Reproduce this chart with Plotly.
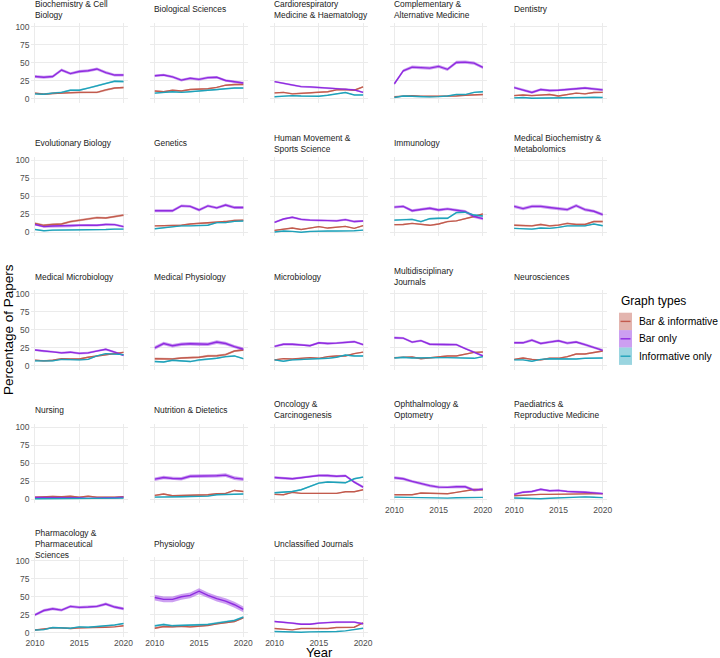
import textwrap
import plotly.graph_objects as go

# ---------------- data ----------------
years = list(range(2010, 2021))
x_ticks = [2010, 2015, 2020]
y_ticks = [0, 25, 50, 75, 100]
series_names = ["Bar & informative", "Bar only", "Informative only"]

categories = [
    "Biochemistry & Cell Biology", "Biological Sciences",
    "Cardiorespiratory Medicine & Haematology", "Complementary & Alternative Medicine",
    "Dentistry", "Evolutionary Biology", "Genetics", "Human Movement & Sports Science",
    "Immunology", "Medical Biochemistry & Metabolomics", "Medical Microbiology",
    "Medical Physiology", "Microbiology", "Multidisciplinary Journals", "Neurosciences",
    "Nursing", "Nutrition & Dietetics", "Oncology & Carcinogenesis",
    "Ophthalmology & Optometry", "Paediatrics & Reproductive Medicine",
    "Pharmacology & Pharmaceutical Sciences", "Physiology", "Unclassified Journals",
]

bar_informative = [
    [8, 6.5, 7.5, 8.3, 9, 9, 9, 9, 12.5, 15, 15.7],
    [11, 10, 12, 11, 13, 13.5, 14, 16, 19, 20, 20],
    [8.3, 9, 7, 8, 8, 10, 10, 12.5, 13, 12, 16.7],
    [3, 4, 4.6, 3.7, 3.7, 3.7, 3.7, 4, 5, 5.5, 6],
    [4.6, 5.5, 4.6, 5.5, 6, 4, 6, 8, 7, 8.8, 9],
    [12.5, 9.8, 11, 11.6, 15, 16.7, 19, 20.5, 20, 22, 24],
    [9, 9, 10, 10, 11.6, 12.5, 12.5, 13.5, 15, 16.7, 17],
    [2.8, 4.6, 6, 4, 5.6, 8, 6, 7, 8.4, 5.6, 9.3],
    [10.7, 11, 12.5, 11, 9.8, 11.6, 15, 16, 18.6, 22, 25.6],
    [10, 9, 9, 11, 9, 10, 12.5, 11, 11, 15, 15],
    [8, 7, 7.8, 10, 9.6, 9.6, 12, 13.8, 16, 17.4, 18.8],
    [10, 10, 9.6, 11, 11.5, 12, 13.8, 14, 15.6, 20.6, 22],
    [8.3, 10, 9.6, 10.5, 11.5, 10.5, 12.8, 13.8, 13.8, 17, 19],
    [11.5, 11.5, 12.4, 10, 11.5, 12.8, 13.8, 13.8, 16, 18.8, 19.3],
    [9, 11, 9, 8.3, 10.5, 10.5, 12.8, 16.5, 16.5, 18.3, 20.6],
    [3.2, 4.1, 4.1, 3.7, 4.6, 3.2, 4.6, 3.2, 2.8, 3.2, 3.7],
    [5.5, 7.4, 5, 5.5, 5, 5.5, 6.5, 7.8, 8.3, 12.4, 11],
    [7, 6.5, 9.7, 8.3, 8.3, 8.3, 8.3, 8.3, 10.6, 10.6, 13.4],
    [6.5, 6.5, 6.5, 8.8, 8.8, 8.3, 7.8, 9.7, 11.5, 13.8, 13.4],
    [5, 6, 7, 7, 7, 7, 7, 8, 8, 8, 8],
    [4, 5.6, 7, 7, 6, 7, 7, 7.9, 7.9, 8.4, 9.8],
    [6.5, 8.8, 8.4, 9.3, 8.4, 9.3, 10.2, 12.6, 14, 15.8, 21],
    [6, 5.6, 4.2, 6, 6, 6, 6, 7.4, 7.9, 7.9, 14],
]

bar_only = [
    [31, 30, 31, 40, 35, 38, 39, 41.5, 36.5, 33, 33],
    [32, 33, 30.5, 26, 28.5, 27, 29.5, 30, 25.5, 24, 22],
    [24, 22, 19, 17, 16.7, 16, 15, 14, 13.4, 12.5, 9],
    [21, 39, 44, 43, 42.6, 45, 41, 50.5, 51, 49.5, 43.5],
    [15.7, 12.5, 9, 13, 11.6, 12, 13.4, 14, 15, 14, 12.5],
    [11, 8, 8.8, 8.8, 8.8, 9.8, 10, 9.8, 11, 10.7, 8],
    [30, 30, 30, 36.7, 36, 31, 36.7, 34, 38, 34.4, 34.4],
    [14, 18.6, 21, 18, 17, 16.7, 17, 16, 17.7, 15, 15.8],
    [35, 36, 30, 32, 33.5, 31, 32.6, 30.7, 29, 22, 19],
    [36, 33, 36, 36, 34.4, 32.6, 31.6, 37, 31.6, 29.3, 24.6],
    [22, 20.5, 20, 18, 19, 17.4, 18, 21, 23, 19, 14.7],
    [25, 31, 28, 30, 30.7, 30, 30, 33, 31, 26.6, 23],
    [27, 30, 30, 29.4, 28, 32, 31, 31.6, 33, 33.5, 29.4],
    [39, 38.5, 33, 35, 30, 30, 29, 29.4, 24, 19, 13.8],
    [32, 32, 35.7, 31, 33, 34.9, 31.6, 33, 29.4, 25.7, 21.6],
    [2.8, 2.8, 2.3, 2.8, 3.2, 2.3, 1.4, 2.3, 2.3, 2.3, 3.2],
    [28, 30.4, 29, 28.6, 32, 32, 32.7, 32.7, 33.6, 29.5, 28],
    [30.4, 29.5, 28.6, 30, 32, 33, 33, 32, 32.7, 24, 17],
    [30, 28.6, 25, 21.7, 19, 17, 16.6, 17.5, 17.5, 12.9, 14.3],
    [7, 10, 11, 14, 12, 12.5, 11, 11, 10, 9, 8],
    [25, 31, 33.5, 31.6, 36.7, 35.3, 35.8, 36.7, 40, 35.8, 33.5],
    [49, 46.5, 46.5, 50, 52, 57.7, 52, 47.4, 44, 39, 32.6],
    [15.8, 14.9, 13.5, 12, 12, 13.5, 14.4, 14.9, 14.9, 14.9, 12.6],
]

informative_only = [
    [7, 6.5, 8, 9, 12, 12, 15, 18, 22, 24.5, 24],
    [8, 9, 10, 9, 9.5, 11, 12, 12.5, 14, 15, 15],
    [3, 4, 4.6, 4, 3.7, 3.7, 5, 7, 8.8, 5.5, 5.5],
    [2, 4, 3.7, 2.8, 2.8, 3.2, 4, 6, 6, 9, 10],
    [1.4, 2, 1, 1, 1.4, 1.4, 1.4, 1.4, 2, 2.3, 2],
    [4, 2.3, 3.2, 3.2, 3.2, 3.2, 3.7, 4, 4, 4.6, 4.6],
    [5, 6.5, 8, 9, 9, 10, 10, 13.5, 13.5, 15.3, 15.8],
    [0.5, 2, 1.4, 0.3, 1.4, 2, 2, 2, 2, 2.3, 3.2],
    [17, 18, 18, 15, 19, 19.5, 19.5, 27.4, 28, 24, 22.8],
    [5.6, 5, 4.6, 6, 5.6, 7, 9, 9, 9, 11.6, 9.3],
    [6.9, 6.9, 6.9, 9, 8.3, 8.3, 9, 13.8, 17, 16, 15.6],
    [6, 5.5, 7.8, 6.9, 6, 8.3, 9, 10.6, 12.8, 13.8, 10],
    [8.3, 6.4, 8.3, 8.7, 9.6, 10.5, 10.5, 12, 15, 13.8, 13.8],
    [11, 12, 11, 11.5, 11.5, 11.5, 11.5, 11.5, 11.5, 10.5, 12.8],
    [8.3, 8.3, 6.4, 9, 10, 9.6, 9.6, 9.6, 10.5, 11, 11],
    [1, 1, 1, 1.4, 1.8, 1.8, 1.4, 1, 1, 1.4, 1.8],
    [3.2, 3.7, 3.2, 3.7, 4.1, 4.6, 4.6, 6.5, 7, 7.8, 7.4],
    [9.2, 9.7, 11, 13.4, 18.4, 22.6, 24, 23.5, 23, 28.6, 30.9],
    [3.2, 2.8, 2.8, 2.8, 1.8, 1.8, 1.8, 2.3, 2.3, 3.2, 2.8],
    [2, 1.5, 1, 1, 1.5, 2, 3, 3.5, 3.5, 3, 2.5],
    [4, 4.6, 7.4, 7, 6.5, 8.4, 7.9, 8.8, 9.8, 11, 13],
    [9.8, 11.6, 9.8, 10.2, 10.7, 10.7, 11.6, 13.5, 15.8, 17.2, 21.9],
    [1.9, 1.4, 0.9, 0.9, 1.4, 1.4, 1.4, 1.9, 2.8, 5.1, 6.5],
]

# half-width of the confidence band, per panel
ci_bar_informative = [1.2, 1.0, 1.0, 0.8, 1.0, 1.5, 1.0, 0.8, 1.0, 1.2, 1.0, 1.5,
                      0.8, 0.8, 1.0, 0.8, 1.0, 0.8, 0.8, 0.8, 0.8, 1.2, 0.6]
ci_bar_only = [2.0, 1.8, 1.2, 2.2, 1.8, 1.5, 2.0, 1.5, 2.0, 2.2, 1.5, 2.5,
               1.6, 1.6, 1.8, 0.8, 2.5, 1.8, 2.0, 1.5, 2.0, 4.0, 1.2]
ci_informative_only = [1.2, 0.8, 0.6, 0.8, 0.5, 0.7, 0.8, 0.4, 1.2, 0.8, 0.8, 1.0,
                       0.8, 0.8, 0.6, 0.4, 0.7, 1.0, 0.5, 0.5, 0.8, 1.5, 0.5]

# ---------------- style / layout ----------------
W, H = 720, 658
NCOL = 5
FONT = "Liberation Sans, Arial, Helvetica, sans-serif"
line_colors = ["#C25B4E", "#8F2BE0", "#1FA2BA"]
band_colors = ["rgba(194,91,78,0.45)", "rgba(143,43,224,0.45)", "rgba(31,162,186,0.45)"]

COL_X2010 = 35.0
COL_PITCH = 119.8
PX_YEAR = 8.85
ROW_Y100 = 26.7
ROW_PITCH = 133.5
PX_UNIT = 0.722

series_values = [bar_informative, bar_only, informative_only]
series_ci = [ci_bar_informative, ci_bar_only, ci_informative_only]

n = len(categories)

fig = go.Figure()
layout = dict(
    width=W, height=H, autosize=False,
    margin=dict(l=0, r=0, t=0, b=0, pad=0),
    paper_bgcolor="white", plot_bgcolor="white",
    showlegend=False,
    font=dict(family=FONT, color="#1A1A1A"),
)
annotations = []
shapes = []

for k, cat in enumerate(categories):
    r, c = divmod(k, NCOL)
    x2010 = COL_X2010 + COL_PITCH * c
    left = x2010 - 0.5 * PX_YEAR
    right = x2010 + 10.5 * PX_YEAR
    y100 = ROW_Y100 + ROW_PITCH * r
    top = y100 - 5 * PX_UNIT
    bottom = y100 + 105 * PX_UNIT
    idx = "" if k == 0 else str(k + 1)
    xa, ya = "x" + idx, "y" + idx

    show_x = (k + NCOL) >= n
    show_y = c == 0

    layout["xaxis" + idx] = dict(
        domain=[left / W, right / W], anchor=ya, range=[2009.5, 2020.5],
        tickvals=x_ticks, showticklabels=show_x, ticks="", automargin=False,
        tickfont=dict(size=8.5, color="#4D4D4D", family=FONT),
        showgrid=True, gridcolor="#EBEBEB", gridwidth=0.8,
        zeroline=False, showline=False, fixedrange=True,
    )
    layout["yaxis" + idx] = dict(
        domain=[1 - bottom / H, 1 - top / H], anchor=xa, range=[-5, 105],
        tickvals=y_ticks, showticklabels=show_y, ticks="", automargin=False,
        tickfont=dict(size=8.5, color="#4D4D4D", family=FONT),
        showgrid=True, gridcolor="#EBEBEB", gridwidth=0.8,
        zeroline=False, showline=False, fixedrange=True,
    )

    for s in range(3):
        vals = series_values[s][k]
        hw = series_ci[s][k]
        upper = [v + hw for v in vals]
        lower = [max(v - hw, 0) for v in vals]
        fig.add_trace(go.Scatter(
            x=years + years[::-1], y=upper + lower[::-1],
            fill="toself", fillcolor=band_colors[s], mode="lines",
            line=dict(width=0), hoverinfo="skip", xaxis=xa, yaxis=ya,
            name=series_names[s], showlegend=False,
        ))
    for s in range(3):
        fig.add_trace(go.Scatter(
            x=years, y=series_values[s][k], mode="lines",
            line=dict(color=line_colors[s], width=1.4),
            xaxis=xa, yaxis=ya, name=series_names[s], showlegend=False,
        ))

    wrapped = "<br>".join(textwrap.wrap(cat, width=22))
    annotations.append(dict(
        text=wrapped, xref="paper", yref="paper",
        x=(left + 2.0) / W, y=1 - (y100 - 17.2) / H,
        xanchor="left", yanchor="middle", align="left", showarrow=False,
        font=dict(size=8.4, color="#1A1A1A", family=FONT),
    ))

annotations.append(dict(
    text="Percentage of Papers", xref="paper", yref="paper",
    x=0.0, y=1 - 329.5 / H, xanchor="left", yanchor="middle",
    textangle=-90, showarrow=False, borderpad=0,
    font=dict(size=13.5, color="black", family=FONT),
))
annotations.append(dict(
    text="Year", xref="paper", yref="paper",
    x=319.5 / W, y=1 - 644.0 / H, xanchor="center", yanchor="top",
    showarrow=False, borderpad=0, font=dict(size=13, color="black", family=FONT),
))

LX0, LX1 = 619, 632
KEY_H = 17.4
KEY_TOP = 312.7
annotations.append(dict(
    text="Graph types", xref="paper", yref="paper",
    x=LX0 / W, y=1 - 300.7 / H, xanchor="left", yanchor="middle",
    showarrow=False, font=dict(size=12, color="black", family=FONT),
))
for s in range(3):
    y0 = KEY_TOP + KEY_H * s
    y1 = y0 + KEY_H
    ym = (y0 + y1) / 2
    shapes.append(dict(type="rect", xref="paper", yref="paper",
                       x0=LX0 / W, x1=LX1 / W, y0=1 - y1 / H, y1=1 - y0 / H,
                       fillcolor=band_colors[s], line=dict(width=0), layer="above"))
    shapes.append(dict(type="line", xref="paper", yref="paper",
                       x0=(LX0 + 1.5) / W, x1=(LX1 - 1.5) / W, y0=1 - ym / H, y1=1 - ym / H,
                       line=dict(color=line_colors[s], width=1.4), layer="above"))
    annotations.append(dict(
        text=series_names[s], xref="paper", yref="paper",
        x=637 / W, y=1 - ym / H, xanchor="left", yanchor="middle",
        showarrow=False, font=dict(size=10.3, color="black", family=FONT),
    ))

layout["annotations"] = annotations
layout["shapes"] = shapes
fig.update_layout(**layout)

fig.write_html(
    "out.html",
    config={"displayModeBar": False},
    post_script="document.body.style.margin='0px';document.body.style.padding='0px';",
)
